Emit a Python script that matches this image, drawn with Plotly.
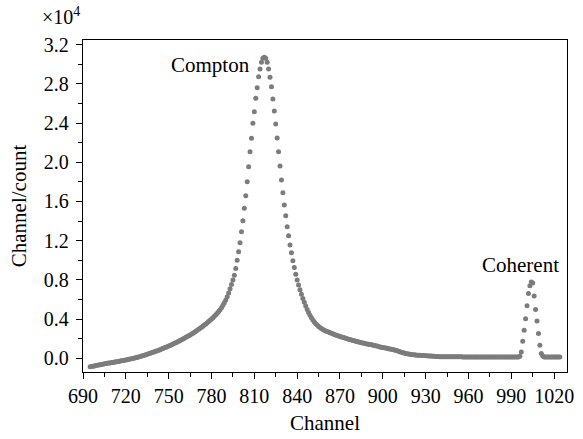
import plotly.graph_objects as go

# Channel numbers (one reading per channel)
channels = list(range(695, 1025))

# Counts per channel, in units of 10^4
counts_1e4 = [
    # 695-724
    -0.085, -0.082, -0.079, -0.076, -0.073, -0.070, -0.067, -0.064, -0.061, -0.058,
    -0.055, -0.052, -0.050, -0.047, -0.045, -0.042, -0.040, -0.037, -0.035, -0.032,
    -0.030, -0.027, -0.024, -0.021, -0.018, -0.015, -0.012, -0.009, -0.006, -0.003,
    # 725-767
    0.000, 0.004, 0.008, 0.012, 0.016, 0.020, 0.024, 0.028, 0.033, 0.038,
    0.043, 0.048, 0.053, 0.058, 0.063, 0.068, 0.073, 0.079, 0.084, 0.090,
    0.096, 0.102, 0.108, 0.114, 0.120, 0.127, 0.133, 0.140, 0.147, 0.154,
    0.161, 0.168, 0.175, 0.183, 0.191, 0.199, 0.207, 0.215, 0.223, 0.231,
    0.240, 0.249, 0.258,
    # 768-796
    0.267, 0.277, 0.287, 0.297, 0.307, 0.318, 0.329, 0.340, 0.352, 0.364,
    0.376, 0.389, 0.402, 0.416, 0.430, 0.445, 0.461, 0.478, 0.497, 0.518,
    0.542, 0.568, 0.597, 0.630, 0.668, 0.710, 0.755, 0.801, 0.849,
    # 797-839 (Compton peak)
    0.917, 1.002, 1.087, 1.179, 1.291, 1.403, 1.530, 1.658, 1.801, 1.954,
    2.107, 2.244, 2.397, 2.515, 2.652, 2.760, 2.872, 2.950, 3.020, 3.060,
    3.070, 3.060, 3.020, 2.951, 2.866, 2.770, 2.645, 2.522, 2.390, 2.247,
    2.107, 1.961, 1.818, 1.689, 1.563, 1.454, 1.342, 1.251, 1.156, 1.077,
    0.996, 0.928, 0.859,
    # 840-940
    0.800, 0.750, 0.700, 0.655, 0.612, 0.572, 0.535, 0.500, 0.468, 0.440,
    0.415, 0.392, 0.372, 0.355, 0.340, 0.327, 0.315, 0.305, 0.296, 0.288,
    0.281, 0.275, 0.269, 0.263, 0.257, 0.251, 0.245, 0.240, 0.235, 0.230,
    0.225, 0.220, 0.215, 0.210, 0.205, 0.200, 0.196, 0.192, 0.188, 0.184,
    0.180, 0.176, 0.172, 0.168, 0.164, 0.160, 0.157, 0.154, 0.151, 0.148,
    0.145, 0.142, 0.139, 0.136, 0.133, 0.130, 0.126, 0.122, 0.118, 0.115,
    0.112, 0.109, 0.106, 0.103, 0.100, 0.097, 0.094, 0.091, 0.087, 0.083,
    0.078, 0.073, 0.068, 0.063, 0.059, 0.055, 0.051, 0.048, 0.045, 0.043,
    0.041, 0.039, 0.037, 0.035, 0.034, 0.033, 0.032, 0.031, 0.030, 0.029,
    0.028, 0.027, 0.026, 0.025, 0.024, 0.023, 0.022, 0.021, 0.020, 0.019,
    0.018,
    # 941-995
    0.017, 0.017, 0.017, 0.017, 0.017, 0.017, 0.017, 0.017, 0.017, 0.017,
    0.017, 0.017, 0.017, 0.017, 0.017, 0.016, 0.016, 0.016, 0.016, 0.016,
    0.016, 0.016, 0.016, 0.016, 0.016, 0.016, 0.016, 0.016, 0.016, 0.016,
    0.016, 0.016, 0.016, 0.016, 0.016, 0.016, 0.016, 0.016, 0.016, 0.016,
    0.016, 0.016, 0.016, 0.016, 0.016, 0.016, 0.016, 0.016, 0.016, 0.016,
    0.016, 0.016, 0.016, 0.016, 0.016,
    # 996-1012 (coherent peak)
    0.022, 0.066, 0.176, 0.288, 0.406, 0.536, 0.663, 0.740, 0.780, 0.770,
    0.636, 0.500, 0.382, 0.254, 0.135, 0.050, 0.025,
    # 1013-1024
    0.016, 0.016, 0.016, 0.016, 0.016, 0.016, 0.016, 0.016, 0.016, 0.016,
    0.016, 0.016,
]
assert len(channels) == len(counts_1e4)

x_ticks = [690, 720, 750, 780, 810, 840, 870, 900, 930, 960, 990, 1020]
y_ticks = [0.0, 0.4, 0.8, 1.2, 1.6, 2.0, 2.4, 2.8, 3.2]
y_tick_labels = ["0.0", "0.4", "0.8", "1.2", "1.6", "2.0", "2.4", "2.8", "3.2"]

peak_labels = ["Compton", "Coherent"]
peak_label_x = [779.5, 996.5]
peak_label_y = [2.99, 0.95]

FONT = "Liberation Serif, Times New Roman, serif"
FS = 20

fig = go.Figure()
fig.add_trace(go.Scatter(
    x=channels, y=counts_1e4, mode="markers",
    marker=dict(size=5, color="rgb(124,124,124)", line=dict(width=0)),
    showlegend=False, hoverinfo="x+y",
))

for t, xx, yy in zip(peak_labels, peak_label_x, peak_label_y):
    fig.add_annotation(x=xx, y=yy, xref="x", yref="y", text=t, showarrow=False,
                       font=dict(family=FONT, size=21, color="black"))

fig.add_annotation(x=-0.045, y=1.115, xref="paper", yref="paper",
                   text="×10<sup>4</sup>", showarrow=False,
                   xanchor="center", yanchor="top",
                   font=dict(family=FONT, size=FS, color="black"))

axis_common = dict(
    showline=True, linecolor="black", linewidth=1.4, mirror=True,
    showgrid=False, zeroline=False,
    ticks="outside", ticklen=6, tickwidth=1.2, tickcolor="black",
    tickfont=dict(family=FONT, size=FS, color="black"),
)

fig.update_xaxes(
    range=[690, 1029], tickvals=x_ticks,
    minor=dict(ticks="outside", ticklen=4, tickwidth=1.1, tickcolor="black", dtick=15, tick0=690),
    title=dict(text="Channel", font=dict(family=FONT, size=21, color="black"), standoff=9),
    **axis_common,
)
fig.update_yaxes(
    range=[-0.138, 3.246], tickvals=y_ticks, ticktext=y_tick_labels,
    ticklabelstandoff=3,
    minor=dict(ticks="outside", ticklen=4, tickwidth=1.1, tickcolor="black", dtick=0.2, tick0=0),
    title=dict(text="Channel/count", font=dict(family=FONT, size=21, color="black"), standoff=11),
    **axis_common,
)

fig.update_layout(
    width=583, height=439,
    margin=dict(l=83, r=16, t=40, b=67, autoexpand=False),
    plot_bgcolor="white", paper_bgcolor="white",
    font=dict(family=FONT, color="black"),
)

fig.write_html("out.html", config={"displayModeBar": False},
               post_script="document.body.style.margin='0';")
